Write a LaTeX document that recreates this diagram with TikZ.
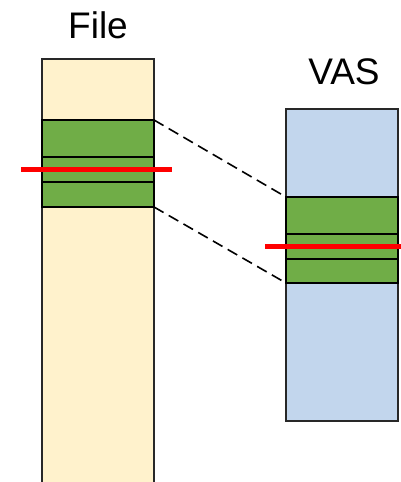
\documentclass[tikz,border=0pt]{standalone}
\usepackage{fontspec}
\setmainfont{Liberation Sans}
\usetikzlibrary{positioning}
\definecolor{filec}{RGB}{255,242,204}
\definecolor{vasc}{RGB}{194,214,237}
\definecolor{mapc}{RGB}{112,173,71}
\definecolor{edgec}{RGB}{40,40,40}
\definecolor{cutc}{RGB}{255,0,0}

\begin{document}
\begin{tikzpicture}[x=1pt,y=-1pt,
  every node/.style={inner sep=0pt,outer sep=0pt},
  bar/.style={draw=edgec,line width=1.6pt,minimum width=112pt},
  seg/.style={draw=black,line width=1.6pt,fill=mapc,minimum width=112pt},
  lbl/.style={font=\fontsize{37}{40}\selectfont},
  cut/.style={draw=cutc,line width=5pt},
  link/.style={draw=black,line width=1.6pt,dash pattern=on 11pt off 6pt}]
  \useasboundingbox (0,0) rectangle (401,482);
  \clip (0,0) rectangle (401,482);

  % file side
  \node[bar,fill=filec,minimum height=441pt] (file) at (98,279.5) {};
  \node[seg,minimum height=37pt] (fa) at (98,138.5) {};
  \node[seg,minimum height=25pt,below=0pt of fa] (fb) {};
  \node[seg,minimum height=25pt,below=0pt of fb] (fc) {};
  \node[lbl] (filelbl) at (98,25) {File};

  % address space side
  \node[bar,fill=vasc,minimum height=312pt] (vas) at (342,265) {};
  \node[seg,minimum height=37pt] (va) at (342,215.5) {};
  \node[seg,minimum height=25pt,below=0pt of va] (vb) {};
  \node[seg,minimum height=24pt,below=0pt of vb] (vc) {};
  \node[lbl] (vaslbl) at (344,72) {VAS};

  % mapping
  \draw[link] (fa.north east) -- (va.north west);
  \draw[link] (fc.south east) -- (vc.south west);

  % cut lines
  \coordinate (fcutl) at (21,169.5);
  \coordinate (fcutr) at (172,169.5);
  \coordinate (vcutl) at (265,246);
  \coordinate (vcutr) at (405,246);
  \draw[cut] (fcutl) -- (fcutr);
  \draw[cut] (vcutl) -- (vcutr);
\end{tikzpicture}
\end{document}
